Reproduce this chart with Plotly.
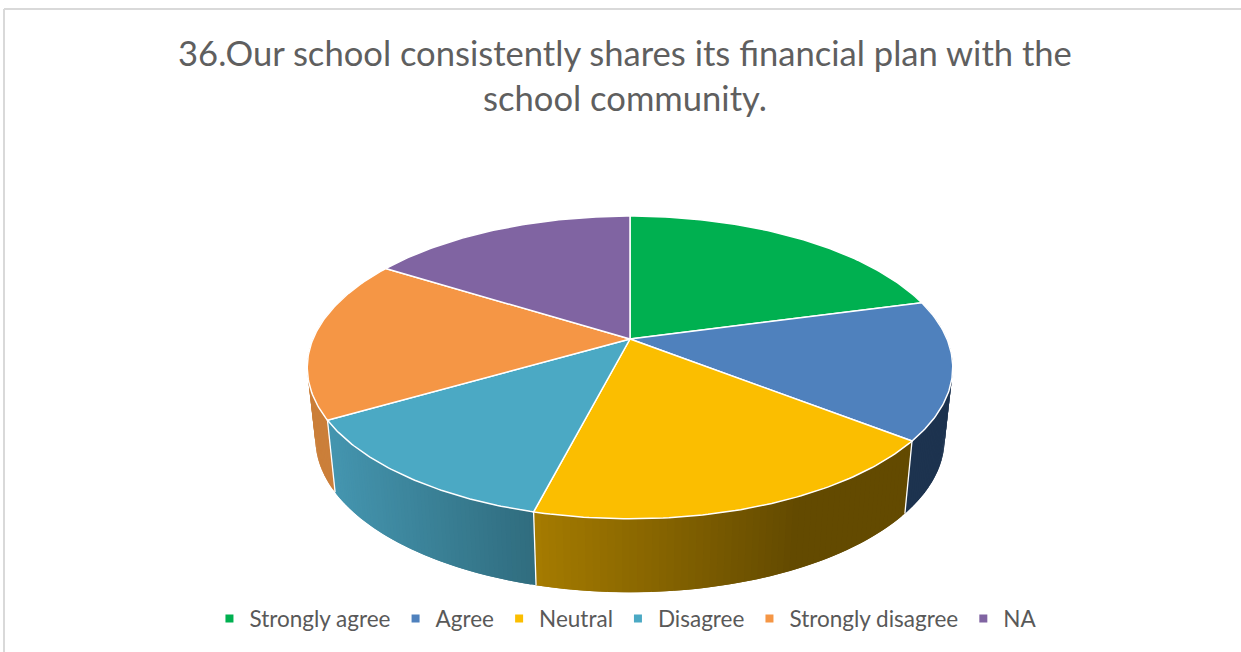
import numpy as np
import plotly.graph_objects as go

title_text = "36.Our school consistently shares its financial plan with the<br>school community."
categories = ["Strongly agree", "Agree", "Neutral", "Disagree", "Strongly disagree", "NA"]
values = [20.8, 14.8, 18.4, 12.6, 17.3, 16.1]
top_colors = ["#00B050", "#4F81BD", "#FBBE00", "#4BA9C4", "#F59645", "#8064A2"]
wall_left = ["#008A3F", "#1D334F", "#A67C00", "#4596B0", "#CB7F3A", "#5F4A7A"]
wall_right = ["#008A3F", "#1D334F", "#634A00", "#306C7E", "#CB7F3A", "#5F4A7A"]
wall_flat_x = [900, 900, 800, 537, 340, 300]

CX, CY, A, B, K = 630.0, 339.0, 317.0, 146.0, 0.188
CY2, A2, B2 = 410.0, 309.0, 148.0


def project(theta, cy, a, b):
    u, v = np.sin(theta), np.cos(theta)
    w = 1 + K * v
    return CX + a * u / w, cy - b * v / w


def hex_rgb(h):
    return np.array([int(h[i:i + 2], 16) for i in (1, 3, 5)], dtype=float)


def lerp_color(c0, c1, t):
    r = hex_rgb(c0) * (1 - t) + hex_rgb(c1) * t
    return "rgb(%d,%d,%d)" % tuple(r)


fig = go.Figure()

fractions = np.array(values) / sum(values)
edges = np.concatenate([[0], np.cumsum(fractions)]) * 2 * np.pi

# side walls: overlapping strips, painted so no seams show
for i in range(len(values)):
    thetas = np.linspace(edges[i], edges[i + 1], 61)
    xt, yt = project(thetas, CY, A, B)
    xb, yb = project(thetas, CY2, A2, B2)
    visible = np.cos(thetas) < 0.35
    if not visible.any():
        continue
    x_start = xt[visible].min()
    idx = np.arange(len(thetas) - 1)
    if wall_left[i] != wall_right[i]:
        idx = idx[np.argsort(-0.5 * (xt[:-1] + xt[1:]))]
    for j in idx:
        k = min(j + 1, len(thetas) - 1)
        if not (visible[j] and visible[k]):
            continue
        m = max(j - 1, 0) if xt[k] > xt[j] else j
        n = k if xt[k] > xt[j] else min(k + 1, len(thetas) - 1)
        t = 0.0
        if wall_flat_x[i] > x_start:
            t = float(np.clip((0.5 * (xt[j] + xt[k]) - x_start) / (wall_flat_x[i] - x_start), 0, 1))
        c = lerp_color(wall_left[i], wall_right[i], t)
        fig.add_trace(go.Scatter(
            x=[xt[m], xt[n], xb[n], xb[m], xt[m]],
            y=[yt[m], yt[n], yb[n], yb[m], yt[m]],
            mode="lines", fill="toself", fillcolor=c, line=dict(color=c, width=0),
            showlegend=False, hoverinfo="skip"))

# seams between the slices on the side wall
for e in edges[1:-1]:
    if np.cos(e) < 0.0:
        x0, y0 = project(np.array([e]), CY, A, B)
        x1, y1 = project(np.array([e]), CY2, A2, B2)
        fig.add_trace(go.Scatter(x=[x0[0], x1[0]], y=[y0[0], y1[0]], mode="lines",
                                 line=dict(color="white", width=1.3),
                                 showlegend=False, hoverinfo="skip"))

# top faces
for i in range(len(values)):
    thetas = np.linspace(edges[i], edges[i + 1], 80)
    xt, yt = project(thetas, CY, A, B)
    fig.add_trace(go.Scatter(
        x=np.concatenate([[CX], xt, [CX]]), y=np.concatenate([[CY], yt, [CY]]),
        mode="lines", fill="toself", fillcolor=top_colors[i],
        line=dict(color="white", width=1.5),
        showlegend=False, hoverinfo="skip"))

# legend
for name, c in zip(categories, top_colors):
    fig.add_trace(go.Scatter(x=[None], y=[None], mode="markers", name=name,
                             marker=dict(symbol="square", size=8, color=c)))

# frame
for x0, y0, x1, y1 in [(4, 652, 4, 9), (4, 9, 1241, 9)]:
    fig.add_shape(type="line", x0=x0, y0=y0, x1=x1, y1=y1,
                  line=dict(color="#D9D9D9", width=2))

fig.update_layout(
    width=1241, height=652,
    margin=dict(l=0, r=0, t=0, b=0),
    paper_bgcolor="white", plot_bgcolor="white",
    xaxis=dict(range=[0, 1241], visible=False, fixedrange=True),
    yaxis=dict(range=[652, 0], visible=False, fixedrange=True),
    title=dict(text=title_text, x=0.5036, xanchor="center", y=0.899, yanchor="top",
               font=dict(family="Lato", size=34.6, color="#5F5F5F")),
    legend=dict(orientation="h", x=0.5044, xanchor="center", y=0.018, yanchor="bottom",
                font=dict(family="Lato", size=22.5, color="#595959"),
                itemwidth=30, bgcolor="rgba(0,0,0,0)"),
)

fig.write_html("out.html", post_script="document.body.style.margin='0';",
               config={"displayModeBar": False})
